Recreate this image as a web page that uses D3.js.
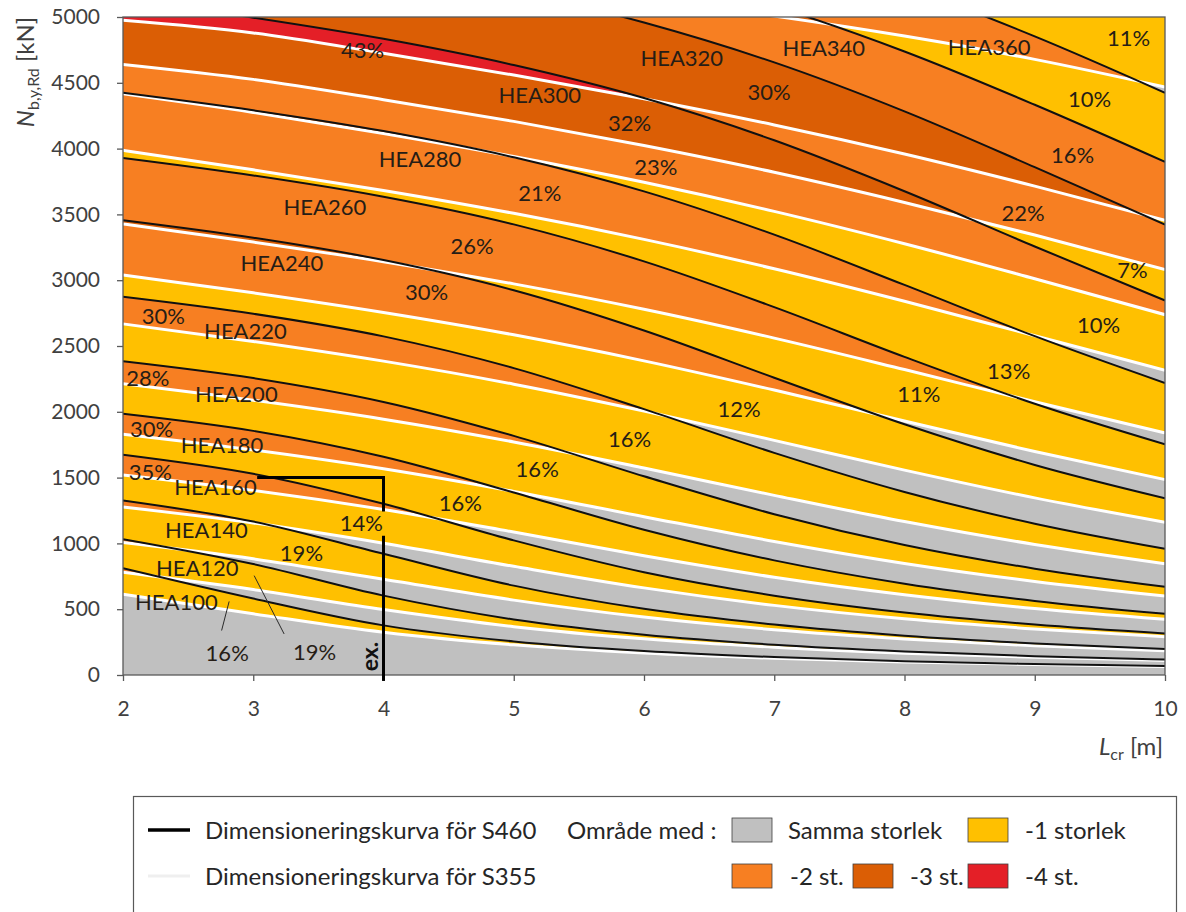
<!DOCTYPE html>
<html>
<head>
<meta charset="utf-8">
<script src="https://cdn.jsdelivr.net/npm/d3@7"></script>
<style>
  body { margin: 0; background: #fff; }
  svg text { font-family: Lato, "Open Sans", "Noto Sans", sans-serif; }
</style>
</head>
<body>
<svg id="chart" width="1186" height="912"></svg>
<script>
// Buckling length L_cr [m] at which each design curve is tabulated
const lengthsM = [2, 3, 4, 5, 6, 7, 8, 9, 10];

// Design buckling resistance N_b,y,Rd [kN], steel grade S460
const s460_HEA100 = [811, 581, 377, 255, 182, 136, 105, 84, 68];
const s460_HEA120 = [1032, 843, 603, 422, 306, 230, 179, 143, 117];
const s460_HEA140 = [1326, 1166, 921, 679, 503, 383, 299, 240, 197];
const s460_HEA160 = [1674, 1529, 1301, 1023, 781, 603, 475, 383, 315];
const s460_HEA180 = [1985, 1855, 1658, 1387, 1104, 871, 694, 563, 465];
const s460_HEA200 = [2384, 2256, 2075, 1817, 1510, 1222, 988, 808, 670];
const s460_HEA220 = [2874, 2745, 2573, 2332, 2020, 1688, 1391, 1150, 959];
const s460_HEA240 = [3456, 3323, 3153, 2924, 2618, 2259, 1905, 1596, 1343];
const s460_HEA260 = [3929, 3796, 3634, 3424, 3143, 2795, 2417, 2061, 1753];
const s460_HEA280 = [4424, 4291, 4133, 3934, 3675, 3346, 2964, 2575, 2219];
const s460_HEA300 = [5136, 4995, 4834, 4635, 4384, 4063, 3676, 3256, 2846];
const s460_HEA320 = [5698, 5554, 5392, 5199, 4958, 4655, 4283, 3859, 3422];
const s460_HEA340 = [6071, 5928, 5770, 5586, 5361, 5083, 4738, 4333, 3899];
const s460_HEA360 = [6503, 6367, 6210, 6031, 5818, 5557, 5235, 4853, 4424];

// Design buckling resistance N_b,y,Rd [kN], steel grade S355
const s355_HEA100 = [613, 465, 325, 229, 167, 127, 99, 80, 65];
const s355_HEA120 = [780, 649, 497, 367, 275, 211, 166, 134, 111];
const s355_HEA140 = [1006, 883, 727, 569, 440, 344, 274, 222, 184];
const s355_HEA160 = [1276, 1155, 1001, 826, 662, 529, 427, 350, 291];
const s355_HEA180 = [1520, 1403, 1258, 1086, 906, 743, 610, 505, 423];
const s355_HEA200 = [1830, 1710, 1567, 1395, 1203, 1015, 848, 711, 600];
const s355_HEA220 = [2213, 2088, 1944, 1771, 1573, 1365, 1166, 992, 846];
const s355_HEA240 = [2668, 2535, 2385, 2210, 2006, 1783, 1557, 1346, 1161];
const s355_HEA260 = [3039, 2904, 2755, 2585, 2387, 2165, 1930, 1698, 1485];
const s355_HEA280 = [3428, 3290, 3141, 2972, 2779, 2560, 2321, 2076, 1840];
const s355_HEA300 = [3987, 3839, 3682, 3508, 3310, 3087, 2840, 2578, 2316];
const s355_HEA320 = [4416, 4275, 4115, 3940, 3744, 3523, 3277, 3011, 2738];
const s355_HEA340 = [4640, 4526, 4372, 4207, 4023, 3820, 3591, 3343, 3080];
const s355_HEA360 = [4975, 4879, 4724, 4559, 4379, 4180, 3959, 3715, 3455];
const s355_HEA400 = [5486, 5449, 5354, 5250, 5136, 5007, 4855, 4678, 4468];

// Axis ticks
const xTicks = [2, 3, 4, 5, 6, 7, 8, 9, 10];
const yTicks = [0, 500, 1000, 1500, 2000, 2500, 3000, 3500, 4000, 4500, 5000];

// Profile names written under each S460 curve, anchored at (L, N)
const profileText = ["HEA100", "HEA120", "HEA140", "HEA160", "HEA180", "HEA200", "HEA220",
                     "HEA240", "HEA260", "HEA280", "HEA300", "HEA320", "HEA340", "HEA360"];
const profileL = [2.41, 2.57, 2.64, 2.71, 2.76, 2.87, 2.94, 3.22, 3.55, 4.28, 5.20, 6.29, 7.38, 8.65];
const profileN = [557, 813, 1102, 1431, 1748, 2135, 2614, 3131, 3556, 3921, 4407, 4688, 4764, 4772];

// Weight savings written in the shaded areas, anchored at (L, N)
const savingText = ["43%", "11%", "30%", "10%", "32%", "16%", "23%", "21%", "22%", "26%", "7%",
                    "30%", "30%", "10%", "13%", "28%", "11%", "12%", "30%", "16%", "35%", "16%",
                    "16%", "14%", "19%", "16%", "19%"];
const savingL = [3.84, 9.72, 6.96, 9.42, 5.89, 9.29, 6.09, 5.20, 8.91, 4.68, 9.75,
                 4.33, 2.31, 9.49, 8.80, 2.19, 8.11, 6.73, 2.22, 5.89, 2.21, 5.18,
                 4.59, 3.83, 3.37, 2.80, 3.47];
const savingN = [4749, 4841, 4427, 4374, 4192, 3951, 3858, 3661, 3508, 3260, 3078,
                 2910, 2728, 2660, 2310, 2257, 2135, 2021, 1869, 1793, 1545, 1565,
                 1307, 1155, 927, 169, 177];

// Leader lines from the two bottom labels, as [L, N] pairs
const leaderHEA100 = [[2.815, 559], [2.757, 338]];
const leaderHEA120 = [[3.007, 755], [3.237, 312]];

// Worked example: N = 1500 kN, L_cr = 4 m
const exampleTop = [[3.03, 1500], [4, 1500], [4, 1243]];
const exampleStem = [[4, 1058], [4, -45]];

// Legend entries for the number of sizes saved
const shiftNames = ["Samma storlek", "-1 storlek", "-2 st.", "-3 st.", "-4 st."];
const shiftColors = ["#c0c0c0", "#ffc000", "#f77f22", "#db5e05", "#e41f27"];

// ---------------------------------------------------------------------------
const curvesS460 = [s460_HEA100, s460_HEA120, s460_HEA140, s460_HEA160, s460_HEA180, s460_HEA200,
  s460_HEA220, s460_HEA240, s460_HEA260, s460_HEA280, s460_HEA300, s460_HEA320, s460_HEA340, s460_HEA360];
const curvesS355 = [s355_HEA100, s355_HEA120, s355_HEA140, s355_HEA160, s355_HEA180, s355_HEA200,
  s355_HEA220, s355_HEA240, s355_HEA260, s355_HEA280, s355_HEA300, s355_HEA320, s355_HEA340,
  s355_HEA360, s355_HEA400];

const svg = d3.select("#chart");
svg.append("rect").attr("width", 1186).attr("height", 912).attr("fill", "#fff");

const plotLeft = 123, plotRight = 1165, plotTop = 17, plotBottom = 675;
const x = d3.scaleLinear().domain([2, 10]).range([plotLeft, plotRight]);
const y = d3.scaleLinear().domain([0, 5000]).range([plotBottom, plotTop]);

const curveType = d3.curveMonotoneX;
const line = d3.line().x((d, i) => x(lengthsM[i])).y(d => y(d)).curve(curveType);
const band = (lo, hi) => d3.area()
  .x((d, i) => x(lengthsM[i]))
  .y0((d, i) => y(lo[i]))
  .y1((d, i) => y(hi[i]))
  .curve(curveType)(lengthsM);

// Zones between consecutive curves; the outer ones are closed by the axis and a line far above the plot
const floorLine = lengthsM.map(() => 0);
const ceilLine = lengthsM.map(() => 9000);
const bounds460 = [floorLine, ...curvesS460, ceilLine];
const bounds355 = [floorLine, ...curvesS355, ceilLine];

const defs = svg.append("defs");
defs.append("clipPath").attr("id", "plotClip")
  .append("rect").attr("x", plotLeft).attr("y", plotTop)
  .attr("width", plotRight - plotLeft).attr("height", plotBottom - plotTop);
for (let j = 0; j < bounds460.length - 1; j++) {
  defs.append("clipPath").attr("id", "s460zone" + j)
    .append("path").attr("d", band(bounds460[j], bounds460[j + 1]));
}

const plot = svg.append("g").attr("clip-path", "url(#plotClip)");

// Colour each overlap of an S460 zone and an S355 zone by how many sizes smaller the S460 profile is
for (let j = 0; j < bounds460.length - 1; j++) {
  const g = plot.append("g").attr("clip-path", `url(#s460zone${j})`);
  for (let k = j; k < bounds355.length - 1; k++) {
    const shift = Math.min(k - j, shiftColors.length - 1);
    g.append("path")
      .attr("d", band(bounds355[k], bounds355[k + 1]))
      .attr("fill", shiftColors[shift]);
  }
}

// S355 curves (white) under the S460 curves (black)
plot.selectAll("path.s355").data(curvesS355).enter().append("path")
  .attr("class", "s355").attr("d", line)
  .attr("fill", "none").attr("stroke", "#ffffff").attr("stroke-width", 3);
plot.selectAll("path.s460").data(curvesS460).enter().append("path")
  .attr("class", "s460").attr("d", line)
  .attr("fill", "none").attr("stroke", "#111111").attr("stroke-width", 2);

// Frame and axes
svg.append("rect").attr("x", plotLeft).attr("y", plotTop)
  .attr("width", plotRight - plotLeft).attr("height", plotBottom - plotTop)
  .attr("fill", "none").attr("stroke", "#595959").attr("stroke-width", 1.3);

const yAxis = svg.append("g").attr("transform", `translate(${plotLeft},0)`)
  .call(d3.axisLeft(y).tickValues(yTicks).tickSize(6).tickSizeOuter(0).tickPadding(17).tickFormat(d3.format("d")));
const xAxis = svg.append("g").attr("transform", `translate(0,${plotBottom})`)
  .call(d3.axisBottom(x).tickValues(xTicks).tickSize(6).tickSizeOuter(0).tickPadding(20).tickFormat(d3.format("d")));
[yAxis, xAxis].forEach(a => {
  a.select(".domain").remove();
  a.selectAll(".tick line").attr("stroke", "#595959").attr("stroke-width", 1.3);
  a.selectAll(".tick text").attr("fill", "#404040").style("font-size", "21px");
});

// Axis titles
const yTitle = svg.append("text")
  .attr("transform", "translate(34,72) rotate(-90)")
  .attr("text-anchor", "middle").attr("fill", "#404040").style("font-size", "24px");
yTitle.append("tspan").text("N").style("font-style", "italic");
yTitle.append("tspan").text("b,y,Rd").style("font-size", "16px").attr("dy", 5);
yTitle.append("tspan").text(" [kN]").attr("dy", -5);

const xTitle = svg.append("text")
  .attr("x", 1163).attr("y", 755)
  .attr("text-anchor", "end").attr("fill", "#404040").style("font-size", "24px");
xTitle.append("tspan").text("L").style("font-style", "italic");
xTitle.append("tspan").text("cr").style("font-size", "16px").attr("dy", 5);
xTitle.append("tspan").text(" [m]").attr("dy", -5);

// Worked example and leader lines
const pathXY = d3.line().x(d => x(d[0])).y(d => y(d[1]));
[exampleTop, exampleStem].forEach(p => svg.append("path").attr("d", pathXY(p))
  .attr("fill", "none").attr("stroke", "#000").attr("stroke-width", 3));
[leaderHEA100, leaderHEA120].forEach(p => svg.append("path").attr("d", pathXY(p))
  .attr("fill", "none").attr("stroke", "#2a2a2a").attr("stroke-width", 1));

svg.append("text")
  .attr("transform", `translate(${x(4) - 6},${y(140)}) rotate(-90)`)
  .attr("text-anchor", "middle").attr("fill", "#111").style("font-size", "23px").style("font-weight", "bold")
  .text("ex.");

// Labels inside the plot
const labelColor = "#261d16";
profileText.forEach((t, i) => {
  svg.append("text").attr("x", x(profileL[i])).attr("y", y(profileN[i])).attr("dy", "0.36em")
    .attr("text-anchor", "middle").attr("fill", labelColor).style("font-size", "22px").text(t);
});
savingText.forEach((t, i) => {
  svg.append("text").attr("x", x(savingL[i])).attr("y", y(savingN[i])).attr("dy", "0.36em")
    .attr("text-anchor", "middle").attr("fill", labelColor).style("font-size", "22px").text(t);
});

// Legend
const legend = svg.append("g");
legend.append("rect").attr("x", 133.5).attr("y", 796.5).attr("width", 1043).attr("height", 140)
  .attr("fill", "#fff").attr("stroke", "#595959").attr("stroke-width", 1.2);
const row1 = 830, row2 = 876;
legend.append("line").attr("x1", 148).attr("x2", 190).attr("y1", row1).attr("y2", row1)
  .attr("stroke", "#000").attr("stroke-width", 3.5);
legend.append("line").attr("x1", 148).attr("x2", 190).attr("y1", row2).attr("y2", row2)
  .attr("stroke", "#efefef").attr("stroke-width", 3);
const legendText = (tx, ty, t) => legend.append("text").attr("x", tx).attr("y", ty).attr("dy", "0.36em")
  .attr("fill", "#262626").style("font-size", "24px").text(t);
legendText(205, row1, "Dimensioneringskurva för S460");
legendText(205, row2, "Dimensioneringskurva för S355");
legendText(567, row1, "Område med :");

const swatchSpots = [[732, row1, 788], [968, row1, 1025], [732, row2, 790], [853, row2, 910], [968, row2, 1025]];
shiftNames.forEach((name, i) => {
  const [sx, sy, tx] = swatchSpots[i];
  legend.append("rect").attr("x", sx).attr("y", sy - 12).attr("width", 40).attr("height", 24)
    .attr("fill", shiftColors[i]).attr("stroke", "#404040").attr("stroke-width", 0.8);
  legendText(tx, sy, name);
});
</script>
</body>
</html>
